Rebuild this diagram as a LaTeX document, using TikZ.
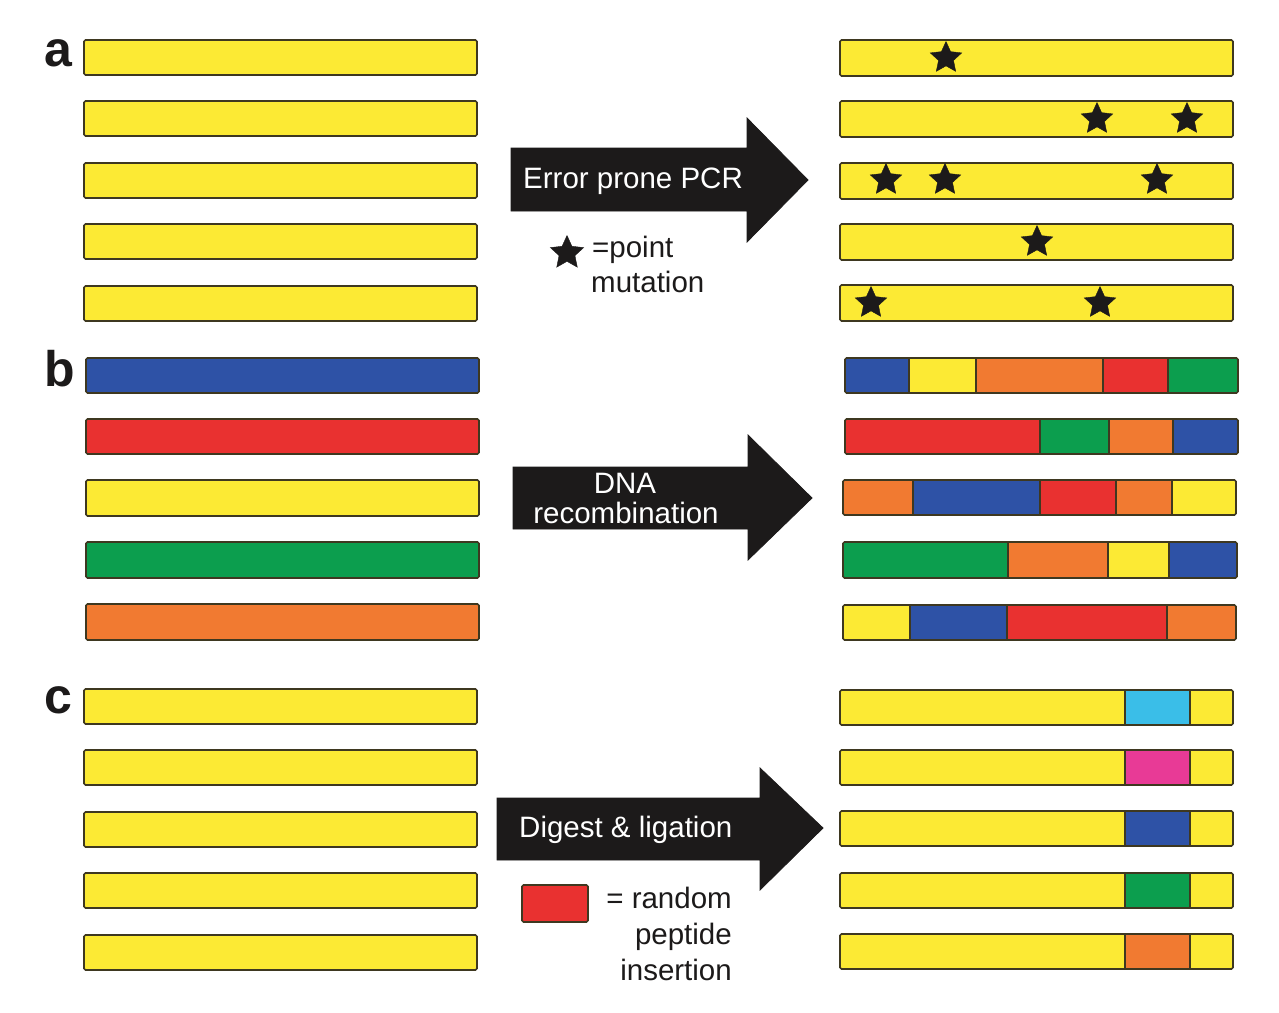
\documentclass[tikz,border=0pt]{standalone}
\usepackage{fontspec}
\setmainfont{Liberation Sans}
\usetikzlibrary{shapes.geometric}
\definecolor{colY}{RGB}{252,234,52}
\definecolor{colB}{RGB}{46,82,166}
\definecolor{colR}{RGB}{233,49,48}
\definecolor{colG}{RGB}{12,158,78}
\definecolor{colO}{RGB}{241,122,49}
\definecolor{colC}{RGB}{58,190,232}
\definecolor{colM}{RGB}{232,58,150}
\definecolor{edgecol}{RGB}{62,56,32}
\definecolor{ablack}{RGB}{28,26,26}
\begin{document}
\begin{tikzpicture}[x=1pt,y=-1pt,
  barline/.style={draw=edgecol, line width=1.6pt, rounded corners=1.5pt},
  segline/.style={draw=edgecol, line width=1.6pt},
  blockarrow/.style={fill=ablack, draw=ablack, line width=0.8pt, line join=miter},
  lbl/.style={font=\fontsize{50}{50}\selectfont\bfseries, inner sep=0pt, text=ablack},
  txt/.style={font=\fontsize{29.5}{30}\selectfont, inner sep=0pt, text=ablack},
  wtxt/.style={font=\fontsize{29.5}{30}\selectfont, inner sep=0pt, text=white},
  mstar/.style={star, star points=5, star point ratio=2.1, fill=ablack, draw=ablack, inner sep=0pt, minimum size=33pt}
]
\useasboundingbox[fill=white] (0,0) rectangle (1279,1012);

% panel labels
\node[lbl, anchor=base west] (la) at (44,66) {a};
\node[lbl, anchor=base west] (lb) at (44,386) {b};
\node[lbl, anchor=base west] (lc) at (44,713) {c};

% ---------- panel a ----------
\foreach \y in {40,101,163,224,286} {
  \draw[barline, fill=colY] (84,\y) rectangle (477,\y+35);
}
\foreach \y in {40,101,163,224,285} {
  \draw[barline, fill=colY] (840,\y) rectangle (1233,\y+36);
}
\node[mstar] (s1) at (946,58) {};
\node[mstar] (s2) at (1097,119) {};
\node[mstar] (s3) at (1187,119) {};
\node[mstar] (s4) at (886,180) {};
\node[mstar] (s5) at (945,180) {};
\node[mstar] (s6) at (1157,180) {};
\node[mstar] (s7) at (1037,242) {};
\node[mstar] (s8) at (871,303) {};
\node[mstar] (s9) at (1100,303) {};

\fill[blockarrow] (511,148) -- (747,148) -- (747,118) -- (808,180) -- (747,242) -- (747,211) -- (511,211) -- cycle;
\node[wtxt, anchor=base west] (ta) at (523,188) {Error prone PCR};
\node[mstar, minimum size=35pt] (sl) at (567,253) {};
\node[txt, anchor=base west] (tp1) at (592,257) {=point};
\node[txt, anchor=base west] (tp2) at (591,292) {mutation};

% ---------- panel b ----------
\draw[barline, fill=colB] (86,358) rectangle (479,393);
\draw[barline, fill=colR] (86,419) rectangle (479,454);
\draw[barline, fill=colY] (86,480) rectangle (479,516);
\draw[barline, fill=colG] (86,542) rectangle (479,578);
\draw[barline, fill=colO] (86,604) rectangle (479,640);

% right recombined rows
\fill[colB] (845,358) rectangle (909,393);
\fill[colY] (909,358) rectangle (976,393);
\fill[colO] (976,358) rectangle (1103,393);
\fill[colR] (1103,358) rectangle (1168,393);
\fill[colG] (1168,358) rectangle (1238,393);
\foreach \x in {909,976,1103,1168} \draw[segline] (\x,358) -- (\x,393);
\draw[barline] (845,358) rectangle (1238,393);

\fill[colR] (845,419) rectangle (1040,454);
\fill[colG] (1040,419) rectangle (1109,454);
\fill[colO] (1109,419) rectangle (1173,454);
\fill[colB] (1173,419) rectangle (1238,454);
\foreach \x in {1040,1109,1173} \draw[segline] (\x,419) -- (\x,454);
\draw[barline] (845,419) rectangle (1238,454);

\fill[colO] (843,480) rectangle (913,515);
\fill[colB] (913,480) rectangle (1040,515);
\fill[colR] (1040,480) rectangle (1116,515);
\fill[colO] (1116,480) rectangle (1172,515);
\fill[colY] (1172,480) rectangle (1236,515);
\foreach \x in {913,1040,1116,1172} \draw[segline] (\x,480) -- (\x,515);
\draw[barline] (843,480) rectangle (1236,515);

\fill[colG] (843,542) rectangle (1008,578);
\fill[colO] (1008,542) rectangle (1108,578);
\fill[colY] (1108,542) rectangle (1169,578);
\fill[colB] (1169,542) rectangle (1237,578);
\foreach \x in {1008,1108,1169} \draw[segline] (\x,542) -- (\x,578);
\draw[barline] (843,542) rectangle (1237,578);

\fill[colY] (843,605) rectangle (910,640);
\fill[colB] (910,605) rectangle (1007,640);
\fill[colR] (1007,605) rectangle (1167,640);
\fill[colO] (1167,605) rectangle (1236,640);
\foreach \x in {910,1007,1167} \draw[segline] (\x,605) -- (\x,640);
\draw[barline] (843,605) rectangle (1236,640);

\fill[blockarrow] (513,467) -- (748,467) -- (748,435) -- (812,498) -- (748,560) -- (748,529) -- (513,529) -- cycle;
\node[wtxt, anchor=base] (tb1) at (625,493) {DNA};
\node[wtxt, anchor=base] (tb2) at (626,523) {recombination};

% ---------- panel c ----------
\foreach \y in {689,750,812,873,935} {
  \draw[barline, fill=colY] (84,\y) rectangle (477,\y+35);
}
\foreach \y/\c in {690/colC,750/colM,811/colB,873/colG,934/colO} {
  \fill[colY] (840,\y) rectangle (1233,\y+35);
  \fill[fill=\c] (1125,\y) rectangle (1190,\y+35);
  \draw[segline] (1125,\y) -- (1125,\y+35);
  \draw[segline] (1190,\y) -- (1190,\y+35);
  \draw[barline] (840,\y) rectangle (1233,\y+35);
}

\fill[blockarrow] (497,798) -- (760,798) -- (760,768) -- (823,828) -- (760,890) -- (760,860) -- (497,860) -- cycle;
\node[wtxt, anchor=base west] (tc) at (519,837) {Digest \& ligation};
\draw[barline, fill=colR] (522,885) rectangle (588,922);
\node[txt, anchor=base east] (tr1) at (732,908) {= random};
\node[txt, anchor=base east] (tr2) at (732,944) {peptide};
\node[txt, anchor=base east] (tr3) at (732,980) {insertion};
\end{tikzpicture}
\end{document}
